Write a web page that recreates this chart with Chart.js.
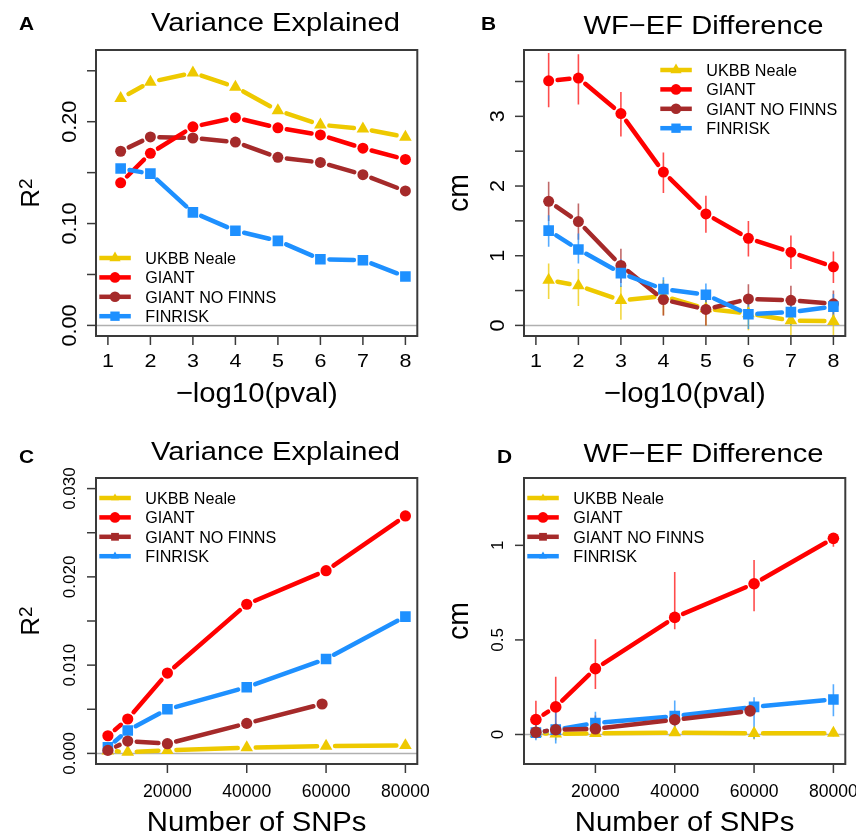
<!DOCTYPE html>
<html><head><meta charset="utf-8">
<script src="https://cdn.jsdelivr.net/npm/chart.js@4/dist/chart.umd.min.js"></script>
<style>
html,body{margin:0;padding:0;background:#fff;}
#wrap{position:relative;width:856px;height:836px;overflow:hidden;background:#fff;}
canvas{position:absolute;left:0;top:0;}
</style></head><body>
<div id="wrap">
<canvas id="cA" width="856" height="836"></canvas>
<canvas id="cB" width="856" height="836"></canvas>
<canvas id="cC" width="856" height="836"></canvas>
<canvas id="cD" width="856" height="836"></canvas>
</div>
<script>
// ---------------- DATA ----------------
const seriesNames = ["UKBB Neale", "GIANT", "GIANT NO FINNS", "FINRISK"];
const pvalX = [1.3, 2, 3, 4, 5, 6, 7, 8];
const snpX = [5000, 10000, 20000, 40000, 60000, 80000];
const snpXNoFinns = [5000, 10000, 20000, 40000, 59000];

// Panel A: variance explained vs -log10(pval)
const ukbbA    = [0.223, 0.239, 0.248, 0.234, 0.211, 0.197, 0.193, 0.185];
const giantA   = [0.140, 0.169, 0.195, 0.204, 0.194, 0.187, 0.174, 0.163];
const noFinnsA = [0.171, 0.185, 0.184, 0.180, 0.165, 0.160, 0.148, 0.132];
const finriskA = [0.154, 0.149, 0.111, 0.093, 0.083, 0.065, 0.064, 0.048];

// Panel B: WF-EF difference (cm) vs -log10(pval), with interval bounds
const ukbbB      = [0.65, 0.57, 0.36, 0.42, 0.24, 0.17, 0.07, 0.06];
const ukbbBLo    = [0.38, 0.28, 0.08, 0.15, 0.00, -0.07, -0.17, -0.17];
const ukbbBHi    = [0.89, 0.81, 0.57, 0.65, 0.46, 0.38, 0.30, 0.28];
const giantB     = [3.51, 3.55, 3.04, 2.20, 1.60, 1.25, 1.05, 0.84];
const giantBLo   = [3.13, 3.17, 2.71, 1.90, 1.33, 0.99, 0.81, 0.61];
const giantBHi   = [3.91, 3.89, 3.35, 2.48, 1.86, 1.50, 1.29, 1.06];
const noFinnsB   = [1.78, 1.49, 0.86, 0.37, 0.23, 0.38, 0.36, 0.31];
const noFinnsBLo = [1.50, 1.23, 0.61, 0.14, 0.00, 0.17, 0.15, 0.12];
const noFinnsBHi = [2.06, 1.75, 1.10, 0.60, 0.45, 0.59, 0.57, 0.50];
const finriskB   = [1.36, 1.09, 0.75, 0.52, 0.44, 0.16, 0.19, 0.27];
const finriskBLo = [1.13, 0.89, 0.55, 0.35, 0.27, -0.05, 0.00, 0.08];
const finriskBHi = [1.58, 1.32, 0.95, 0.69, 0.60, 0.36, 0.37, 0.45];

// Panel C: variance explained vs number of SNPs
const ukbbC    = [0.0003, 0.00015, 0.00035, 0.00065, 0.00083, 0.0009];
const giantC   = [0.0020, 0.0039, 0.0091, 0.0169, 0.0207, 0.0269];
const noFinnsC = [0.00034, 0.0014, 0.0011, 0.0034, 0.0056];
const finriskC = [0.0007, 0.0026, 0.0050, 0.0075, 0.0107, 0.0155];

// Panel D: WF-EF difference (cm) vs number of SNPs, with interval bounds
const ukbbD      = [0.006, 0.004, 0.006, 0.010, 0.006, 0.007];
const ukbbDLo    = [-0.010, -0.030, -0.010, -0.005, -0.027, -0.010];
const ukbbDHi    = [0.020, 0.030, 0.020, 0.025, 0.030, 0.025];
const giantD     = [0.079, 0.146, 0.348, 0.619, 0.797, 1.037];
const giantDLo   = [-0.020, -0.013, 0.240, 0.557, 0.652, 0.993];
const giantDHi   = [0.178, 0.305, 0.504, 0.859, 0.922, 1.060];
const noFinnsD   = [0.012, 0.025, 0.030, 0.078, 0.125];
const noFinnsDLo = [-0.020, -0.010, 0.000, 0.040, 0.100];
const noFinnsDHi = [0.050, 0.060, 0.100, 0.120, 0.150];
const finriskD   = [0.010, 0.026, 0.060, 0.097, 0.146, 0.185];
const finriskDLo = [-0.030, -0.048, 0.000, 0.000, -0.023, 0.097];
const finriskDHi = [0.050, 0.155, 0.120, 0.180, 0.197, 0.265];

// Tick values and labels
const pvalTicks = [1, 2, 3, 4, 5, 6, 7, 8];
const snpTicks = [20000, 40000, 60000, 80000];
const snpTickLabels = ["20000", "40000", "60000", "80000"];
const yTicksA = [0, 0.05, 0.10, 0.15, 0.20, 0.25];
const yLabelsA = ["0.00", "", "0.10", "", "0.20", ""];
const yTicksB = [0, 0.5, 1, 1.5, 2, 2.5, 3, 3.5];
const yLabelsB = ["0", "", "1", "", "2", "", "3", ""];
const yTicksC = [0, 0.005, 0.010, 0.015, 0.020, 0.025, 0.030];
const yLabelsC = ["0.000", "", "0.010", "", "0.020", "", "0.030"];
const yTicksD = [0, 0.5, 1];
const yLabelsD = ["0", "0.5", "1"];

// ---------------- STYLE ----------------
const COL = {ukbb: "#EEC900", giant: "#FF0000", nofinns: "#A52A2A", finrisk: "#1E90FF"};
const ERRCOL = {ukbb: "rgba(238,201,0,0.75)", giant: "rgba(255,0,0,0.7)", nofinns: "rgba(165,42,42,0.7)", finrisk: "rgba(30,144,255,0.75)"};
const GAP = 9;
const FAM = '"Liberation Sans", Arial, sans-serif';

function pts(xs, ys) { return xs.map((x, i) => ({x: x, y: ys[i]})); }

function segLen(c) { return Math.hypot(c.p1.x - c.p0.x, c.p1.y - c.p0.y); }
const gapSegment = {
  borderDash: c => [Math.max(segLen(c) - 2 * GAP, 0.01), 100000],
  borderDashOffset: c => { const d = Math.max(segLen(c) - 2 * GAP, 0.01); return d + 100000 - GAP + c.p0DataIndex * 1e-4; }
};

function ds(label, key, xs, ys, shape, radius, order, lo, hi) {
  return {
    label: label, data: pts(xs, ys), borderColor: COL[key], backgroundColor: COL[key],
    borderWidth: 4.5, borderCapStyle: 'round', borderJoinStyle: 'round',
    pointStyle: shape, pointRadius: radius, pointHoverRadius: radius,
    pointBorderWidth: 0, pointBackgroundColor: COL[key], pointBorderColor: COL[key],
    segment: gapSegment, order: order, tension: 0, fill: false,
    errLo: lo || null, errHi: hi || null, errColor: ERRCOL[key]
  };
}

function txt(ctx, s, x, y, o) {
  ctx.save();
  ctx.translate(x, y);
  if (o.rot) ctx.rotate(o.rot);
  ctx.scale(o.sx || 1, 1);
  ctx.font = (o.bold ? 'bold ' : '') + o.size + 'px ' + FAM;
  ctx.textAlign = o.align || 'center';
  ctx.textBaseline = o.base || 'alphabetic';
  ctx.fillStyle = o.color || '#000';
  ctx.fillText(s, 0, 0);
  ctx.restore();
}

function marker(ctx, shape, x, y, r, color) {
  ctx.save();
  ctx.fillStyle = color;
  ctx.beginPath();
  if (shape === 'circle') {
    ctx.arc(x, y, r, 0, Math.PI * 2);
  } else if (shape === 'rect') {
    const h = r * Math.SQRT1_2;
    ctx.rect(x - h, y - h, 2 * h, 2 * h);
  } else {
    for (let k = 0; k < 3; k++) {
      const a = -Math.PI / 2 + k * 2 * Math.PI / 3;
      const px = x + r * Math.cos(a), py = y + r * Math.sin(a);
      if (k === 0) ctx.moveTo(px, py); else ctx.lineTo(px, py);
    }
    ctx.closePath();
  }
  ctx.fill();
  ctx.restore();
}

function makePanel(id, cfg) {
  const a = cfg.area;
  const deco = {
    id: 'deco' + id,
    beforeDatasetsDraw(chart) {
      const ctx = chart.ctx, ca = chart.chartArea;
      const xs = chart.scales.x, ys = chart.scales.y;
      ctx.save();
      ctx.beginPath(); ctx.rect(ca.left, ca.top, ca.right - ca.left, ca.bottom - ca.top); ctx.clip();
      // zero reference line
      const y0 = ys.getPixelForValue(0);
      ctx.strokeStyle = '#b0b0b0'; ctx.lineWidth = 1.5;
      ctx.beginPath(); ctx.moveTo(ca.left, y0); ctx.lineTo(ca.right, y0); ctx.stroke();
      // interval bars
      chart.data.datasets.forEach(d => {
        if (!d.errLo) return;
        ctx.strokeStyle = d.errColor; ctx.lineWidth = 1.6;
        d.data.forEach((p, i) => {
          const px = xs.getPixelForValue(p.x);
          ctx.beginPath();
          ctx.moveTo(px, ys.getPixelForValue(d.errLo[i]));
          ctx.lineTo(px, ys.getPixelForValue(d.errHi[i]));
          ctx.stroke();
        });
      });
      ctx.restore();
    },
    afterDraw(chart) {
      const ctx = chart.ctx, ca = chart.chartArea;
      const xs = chart.scales.x, ys = chart.scales.y;
      ctx.save();
      // box
      ctx.strokeStyle = '#3a3a3a'; ctx.lineWidth = 2;
      ctx.strokeRect(ca.left, ca.top, ca.right - ca.left, ca.bottom - ca.top);
      // x ticks
      ctx.lineWidth = 1.5;
      cfg.xTicks.forEach((v, i) => {
        const px = xs.getPixelForValue(v);
        ctx.beginPath(); ctx.moveTo(px, ca.bottom); ctx.lineTo(px, ca.bottom + 9); ctx.stroke();
        if (cfg.xLabels[i]) txt(ctx, cfg.xLabels[i], px, cfg.xLabelBase, {size: cfg.xTickSize, sx: cfg.xTickSx});
      });
      // y ticks
      cfg.yTicks.forEach((v, i) => {
        const py = ys.getPixelForValue(v);
        ctx.strokeStyle = '#3a3a3a';
        ctx.beginPath(); ctx.moveTo(ca.left, py); ctx.lineTo(ca.left - 9, py); ctx.stroke();
        if (cfg.yLabels[i]) txt(ctx, cfg.yLabels[i], ca.left - cfg.yLabelOff, py, {size: cfg.yTickSize, sx: cfg.yTickSx, rot: -Math.PI / 2});
      });
      // titles
      txt(ctx, cfg.title, cfg.titleX, cfg.titleY, {size: 26.5, sx: 1.1});
      txt(ctx, cfg.letter, cfg.letterX, cfg.letterY, {size: 19, sx: 1.1, bold: true, align: 'left'});
      txt(ctx, cfg.xTitle, (ca.left + ca.right) / 2, cfg.xTitleY, {size: 27.5, sx: 1.065});
      const cy = (ca.top + ca.bottom) / 2;
      if (cfg.yTitle === 'R2') {
        ctx.save();
        ctx.translate(ca.left - 56.7, cy);
        ctx.rotate(-Math.PI / 2);
        ctx.font = '26px ' + FAM;
        const wR = ctx.measureText('R').width;
        ctx.font = '19px ' + FAM;
        const w2 = ctx.measureText('2').width;
        const start = -(wR + w2) / 2;
        ctx.fillStyle = '#000'; ctx.textBaseline = 'alphabetic'; ctx.textAlign = 'left';
        ctx.font = '26px ' + FAM; ctx.fillText('R', start, 0);
        ctx.font = '19px ' + FAM; ctx.fillText('2', start + wR, -7.5);
        ctx.restore();
      } else {
        txt(ctx, cfg.yTitle, ca.left - 56, cy, {size: 30, sx: 0.95, rot: -Math.PI / 2});
      }
      // legend
      const L = cfg.legend;
      L.items.forEach((it, i) => {
        const y = L.y0 + i * 19.4;
        ctx.strokeStyle = COL[it.key]; ctx.lineWidth = 4.5; ctx.lineCap = 'butt';
        ctx.beginPath(); ctx.moveTo(L.x0, y); ctx.lineTo(L.x0 + 31.5, y); ctx.stroke();
        marker(ctx, it.shape, L.x0 + 15.7, y, it.r, COL[it.key]);
        txt(ctx, it.name, L.x0 + 46, y + 6, {size: 17, sx: 0.95, align: 'left'});
      });
      ctx.restore();
    }
  };
  return new Chart(document.getElementById(id), {
    type: 'line',
    data: {datasets: cfg.datasets},
    options: {
      responsive: false, animation: false, devicePixelRatio: 1,
      layout: {padding: {left: a.l, top: a.t, right: 856 - a.r, bottom: 836 - a.b}},
      scales: {
        x: {type: 'linear', display: false, min: cfg.xRange[0], max: cfg.xRange[1]},
        y: {type: 'linear', display: false, min: cfg.yRange[0], max: cfg.yRange[1]}
      },
      plugins: {legend: {display: false}, tooltip: {enabled: false}, title: {display: false}},
      events: []
    },
    plugins: [deco]
  });
}

const legendAB = [
  {name: seriesNames[0], key: 'ukbb', shape: 'triangle', r: 6.5},
  {name: seriesNames[1], key: 'giant', shape: 'circle', r: 5.3},
  {name: seriesNames[2], key: 'nofinns', shape: 'circle', r: 5.3},
  {name: seriesNames[3], key: 'finrisk', shape: 'rect', r: 6.6}
];
const legendCD = [
  {name: seriesNames[0], key: 'ukbb', shape: 'triangle', r: 4.6},
  {name: seriesNames[1], key: 'giant', shape: 'circle', r: 5.3},
  {name: seriesNames[2], key: 'nofinns', shape: 'rect', r: 5.5},
  {name: seriesNames[3], key: 'finrisk', shape: 'triangle', r: 4.6}
];

const areaTop = {t: 50, b: 336}, areaBot = {t: 478, b: 764};

makePanel('cA', {
  area: {l: 96, r: 417.3, t: areaTop.t, b: areaTop.b},
  xRange: [0.72, 8.28], yRange: [-0.0104, 0.2704],
  xTicks: pvalTicks, xLabels: pvalTicks.map(String), xLabelBase: 367.3, xTickSize: 19, xTickSx: 1.13,
  yTicks: yTicksA, yLabels: yLabelsA, yLabelOff: 20, yTickSize: 21, yTickSx: 1.03,
  title: 'Variance Explained', titleX: 275.5, titleY: 31, letter: 'A', letterX: 19, letterY: 29.5,
  xTitle: '\u2212log10(pval)', xTitleY: 401.5, yTitle: 'R2',
  legend: {x0: 99.3, y0: 258, items: legendAB},
  datasets: [
    ds(seriesNames[0], 'ukbb', pvalX, ukbbA, 'triangle', 7.3, 3),
    ds(seriesNames[1], 'giant', pvalX, giantA, 'circle', 5.5, 1),
    ds(seriesNames[2], 'nofinns', pvalX, noFinnsA, 'circle', 5.5, 2),
    ds(seriesNames[3], 'finrisk', pvalX, finriskA, 'rect', 7.5, 0)
  ]
});

makePanel('cB', {
  area: {l: 524, r: 845.3, t: areaTop.t, b: areaTop.b},
  xRange: [0.72, 8.28], yRange: [-0.152, 3.952],
  xTicks: pvalTicks, xLabels: pvalTicks.map(String), xLabelBase: 367.3, xTickSize: 19, xTickSx: 1.13,
  yTicks: yTicksB, yLabels: yLabelsB, yLabelOff: 20, yTickSize: 21, yTickSx: 1.03,
  title: 'WF\u2212EF Difference', titleX: 703.5, titleY: 33.5, letter: 'B', letterX: 481, letterY: 29.5,
  xTitle: '\u2212log10(pval)', xTitleY: 401.5, yTitle: 'cm',
  legend: {x0: 660.3, y0: 70, items: legendAB},
  datasets: [
    ds(seriesNames[0], 'ukbb', pvalX, ukbbB, 'triangle', 7.3, 3, ukbbBLo, ukbbBHi),
    ds(seriesNames[1], 'giant', pvalX, giantB, 'circle', 5.5, 1, giantBLo, giantBHi),
    ds(seriesNames[2], 'nofinns', pvalX, noFinnsB, 'circle', 5.5, 2, noFinnsBLo, noFinnsBHi),
    ds(seriesNames[3], 'finrisk', pvalX, finriskB, 'rect', 7.5, 0, finriskBLo, finriskBHi)
  ]
});

makePanel('cC', {
  area: {l: 96, r: 417.3, t: areaBot.t, b: areaBot.b},
  xRange: [2000, 83000], yRange: [-0.0012, 0.0312],
  xTicks: snpTicks, xLabels: snpTickLabels, xLabelBase: 797.3, xTickSize: 18.5, xTickSx: 0.95,
  yTicks: yTicksC, yLabels: yLabelsC, yLabelOff: 21, yTickSize: 17, yTickSx: 1.0,
  title: 'Variance Explained', titleX: 275.5, titleY: 459.7, letter: 'C', letterX: 19, letterY: 462.5,
  xTitle: 'Number of SNPs', xTitleY: 830.5, yTitle: 'R2',
  legend: {x0: 99.3, y0: 498, items: legendCD},
  datasets: [
    ds(seriesNames[0], 'ukbb', snpX, ukbbC, 'triangle', 7.3, 3),
    ds(seriesNames[1], 'giant', snpX, giantC, 'circle', 5.6, 2),
    ds(seriesNames[2], 'nofinns', snpXNoFinns, noFinnsC, 'circle', 5.6, 0),
    ds(seriesNames[3], 'finrisk', snpX, finriskC, 'rect', 7.5, 1)
  ]
});

makePanel('cD', {
  area: {l: 524, r: 845.3, t: areaBot.t, b: areaBot.b},
  xRange: [2000, 83000], yRange: [-0.156, 1.356],
  xTicks: snpTicks, xLabels: snpTickLabels, xLabelBase: 797.3, xTickSize: 18.5, xTickSx: 0.95,
  yTicks: yTicksD, yLabels: yLabelsD, yLabelOff: 21, yTickSize: 17, yTickSx: 1.0,
  title: 'WF\u2212EF Difference', titleX: 703.5, titleY: 462, letter: 'D', letterX: 497, letterY: 462.5,
  xTitle: 'Number of SNPs', xTitleY: 830.5, yTitle: 'cm',
  legend: {x0: 527.3, y0: 498, items: legendCD},
  datasets: [
    ds(seriesNames[0], 'ukbb', snpX, ukbbD, 'triangle', 7.3, 3, ukbbDLo, ukbbDHi),
    ds(seriesNames[1], 'giant', snpX, giantD, 'circle', 5.8, 2, giantDLo, giantDHi),
    ds(seriesNames[2], 'nofinns', snpXNoFinns, noFinnsD, 'circle', 5.8, 0, noFinnsDLo, noFinnsDHi),
    ds(seriesNames[3], 'finrisk', snpX, finriskD, 'rect', 7.5, 1, finriskDLo, finriskDHi)
  ]
});
</script>
</body></html>
